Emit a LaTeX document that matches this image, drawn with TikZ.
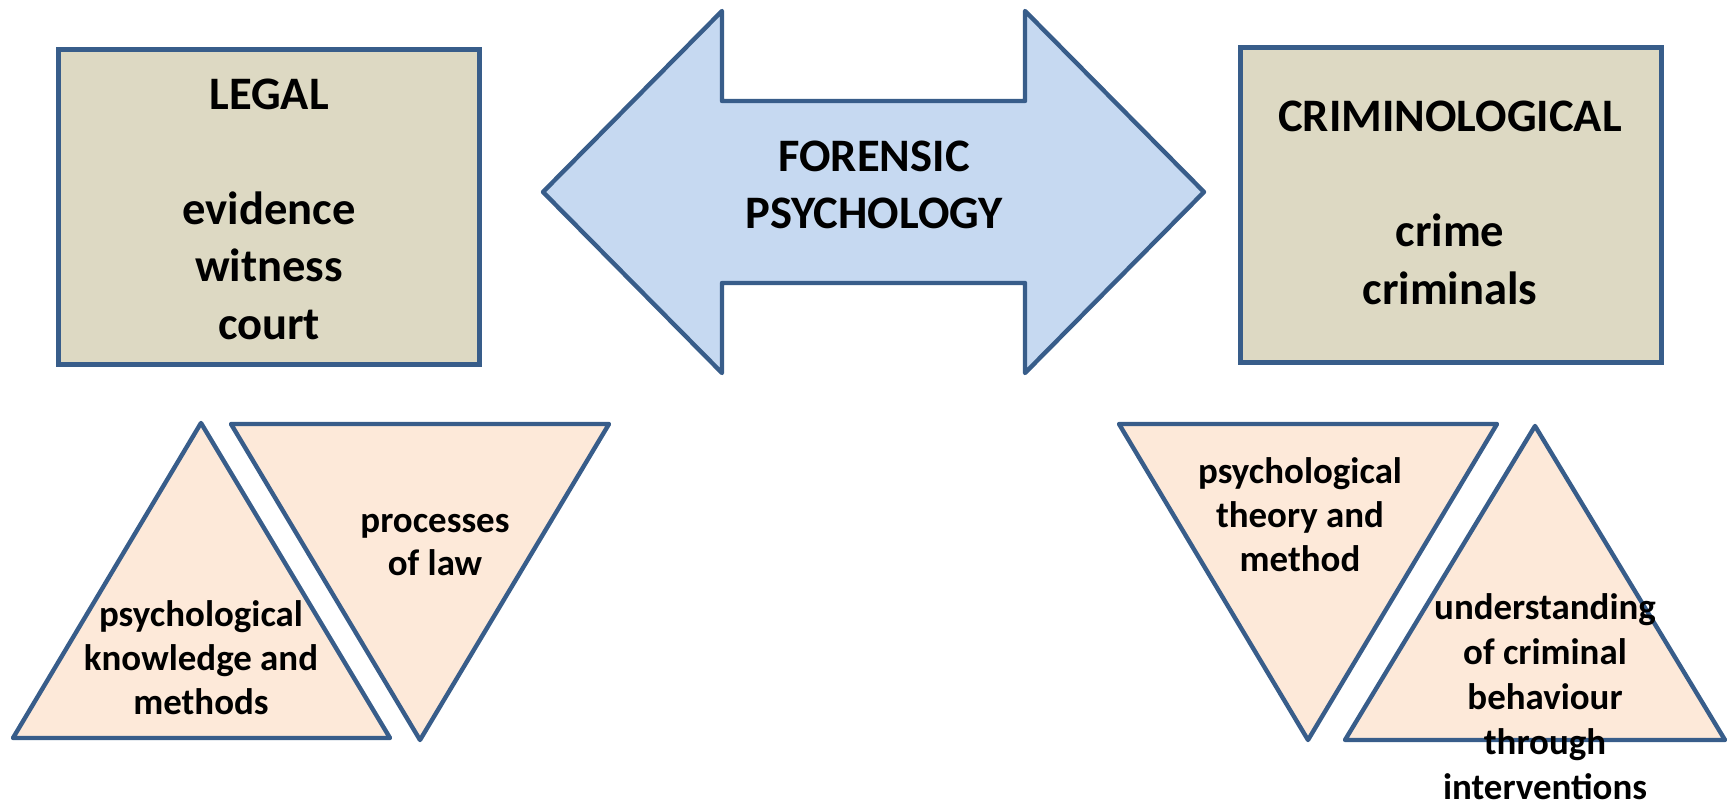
\documentclass[tikz,border=0pt]{standalone}
\usepackage{fontspec}
\setmainfont{Carlito}
\usepackage{tikz}
\definecolor{frameBlue}{HTML}{385D8A}
\definecolor{boxTan}{HTML}{DDD9C3}
\definecolor{arrowSky}{HTML}{C6D9F1}
\definecolor{triPeach}{HTML}{FDE9D9}
\tikzset{
  every picture/.append style={font=\bfseries},
  fieldbox/.style={rectangle,draw=frameBlue,fill=boxTan,line width=2.5pt,minimum width=8.42cm,minimum height=6.3cm,inner sep=0pt},
  bigtext/.style={align=center,inner sep=0pt,font=\bfseries\fontsize{26.5}{32.7}\selectfont},
  smalltext/.style={align=center,inner sep=0pt,font=\bfseries\fontsize{21}{25}\selectfont},
  bluearrow/.style={draw=frameBlue,fill=arrowSky,line width=2.5pt,line join=round},
  triblock/.style={draw=frameBlue,fill=triPeach,line width=2.5pt,line join=round},
}

\begin{document}
\begin{tikzpicture}[x=1cm,y=1cm]
  \useasboundingbox (0,0) rectangle (34.62,16.14);

  % the two fields
  \node[fieldbox] (legal) at (5.38,12.0) {};
  \node[bigtext] (legaltxt) at (5.38,11.96) {LEGAL\\[32.7pt]evidence\\witness\\court};

  \node[fieldbox] (crimino) at (29.02,12.04) {};
  \node[bigtext] (criminotxt) at (29.0,12.08) {CRIMINOLOGICAL\\[32.7pt]crime\\criminals};

  % double arrow in the middle
  \draw[bluearrow] (10.86,12.30) -- (14.44,15.92) -- (14.44,14.12) -- (20.50,14.12)
    -- (20.50,15.92) -- (24.08,12.30) -- (20.50,8.68) -- (20.50,10.48)
    -- (14.44,10.48) -- (14.44,8.68) -- cycle;
  \node[bigtext] (forensic) at (17.48,12.44) {FORENSIC\\PSYCHOLOGY};

  % triangles under the legal field
  \draw[triblock] (4.02,7.68) -- (7.80,1.38) -- (0.26,1.38) -- cycle;
  \draw[triblock] (4.62,7.66) -- (12.18,7.66) -- (8.40,1.34) -- cycle;

  % triangles under the criminological field
  \draw[triblock] (22.38,7.66) -- (29.94,7.66) -- (26.16,1.34) -- cycle;
  \draw[triblock] (30.70,7.62) -- (34.50,1.34) -- (26.90,1.34) -- cycle;

  \node[smalltext] (knowledge) at (4.02,2.98) {psychological\\knowledge and\\methods};
  \node[smalltext] (lawproc) at (8.70,5.24) {processes\\of law};
  \node[smalltext] (theory) at (26.0,5.84) {psychological\\theory and\\method};
  \node[smalltext, font=\bfseries\fontsize{21}{25.6}\selectfont] (understand) at (30.90,2.20)
    {understanding\\of criminal\\behaviour\\through\\interventions};
\end{tikzpicture}
\end{document}
